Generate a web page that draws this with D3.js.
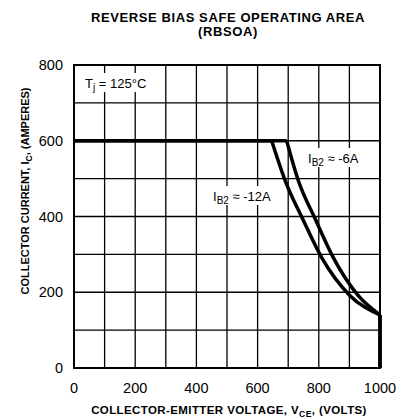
<!DOCTYPE html>
<html>
<head>
<meta charset="utf-8">
<script src="https://cdn.jsdelivr.net/npm/d3@7"></script>
<style>
  body { margin: 0; background: #fff; }
  text { font-family: "Liberation Sans", Arial, sans-serif; fill: #000; }
</style>
</head>
<body>
<svg id="chart"></svg>
<script>
const width = 406;
const height = 419;
const margin = {top: 65, right: 26, bottom: 51, left: 74};

// data
const xTicks = [0, 200, 400, 600, 800, 1000];
const yTicks = [0, 200, 400, 600, 800];
const gridX = [100, 200, 300, 400, 500, 600, 700, 800, 900];
const gridY = [100, 200, 300, 400, 500, 600, 700];

// flat limit, then the curved part, then the drop at 1000 V
const flatI = 600;
const ib2_6A = [
    {v: 695, i: 600}, {v: 733, i: 495}, {v: 788, i: 394},
    {v: 847, i: 292}, {v: 929, i: 191}, {v: 1000, i: 140}
];
const ib2_12A = [
    {v: 646, i: 600}, {v: 690, i: 495}, {v: 747, i: 394},
    {v: 809, i: 292}, {v: 902, i: 191}, {v: 1000, i: 140}
];

const svg = d3.select('#chart')
    .attr('width', width)
    .attr('height', height);

const x = d3.scaleLinear().domain([0, 1000]).range([margin.left, width - margin.right]);
const y = d3.scaleLinear().domain([0, 800]).range([height - margin.bottom, margin.top]);

// grid
svg.append('g').selectAll('line').data(gridX)
    .enter().append('line')
    .attr('x1', d => x(d)).attr('x2', d => x(d))
    .attr('y1', y(0)).attr('y2', y(800))
    .attr('stroke', '#000').attr('stroke-width', 1.3);

svg.append('g').selectAll('line').data(gridY)
    .enter().append('line')
    .attr('x1', x(0)).attr('x2', x(1000))
    .attr('y1', d => y(d)).attr('y2', d => y(d))
    .attr('stroke', '#000').attr('stroke-width', 1.3);

// frame
svg.append('rect')
    .attr('x', x(0)).attr('y', y(800))
    .attr('width', x(1000) - x(0)).attr('height', y(0) - y(800))
    .attr('fill', 'none').attr('stroke', '#000').attr('stroke-width', 2);

// curves
const straight = d3.line().x(d => x(d.v)).y(d => y(d.i));
const smooth = d3.line().x(d => x(d.v)).y(d => y(d.i)).curve(d3.curveMonotoneX);

[ib2_6A, ib2_12A].forEach(series => {
    const first = series[0];
    const last = series[series.length - 1];
    svg.append('path')
        .datum([{v: 0, i: flatI}, first])
        .attr('d', straight)
        .attr('fill', 'none').attr('stroke', '#000').attr('stroke-width', 3.5);
    svg.append('path')
        .datum(series)
        .attr('d', smooth)
        .attr('fill', 'none').attr('stroke', '#000').attr('stroke-width', 3.5)
        .attr('stroke-linejoin', 'round');
    svg.append('path')
        .datum([last, {v: last.v, i: 0}])
        .attr('d', straight)
        .attr('fill', 'none').attr('stroke', '#000').attr('stroke-width', 3.5);
});

// tick labels
svg.append('g').selectAll('text').data(yTicks)
    .enter().append('text')
    .attr('x', 63).attr('y', d => y(d) + 5)
    .attr('text-anchor', 'end')
    .style('font-size', '14.5px')
    .text(d => d);

svg.append('g').selectAll('text').data(xTicks)
    .enter().append('text')
    .attr('x', d => x(d)).attr('y', 393)
    .attr('text-anchor', 'middle')
    .style('font-size', '14.5px')
    .text(d => d);

// titles
svg.append('text').attr('x', 228).attr('y', 22)
    .attr('text-anchor', 'middle')
    .style('font-size', '13px').style('font-weight', 'bold')
    .style('letter-spacing', '0.6px')
    .text('REVERSE BIAS SAFE OPERATING AREA');
svg.append('text').attr('x', 228).attr('y', 36)
    .attr('text-anchor', 'middle')
    .style('font-size', '13px').style('font-weight', 'bold')
    .style('letter-spacing', '0.6px')
    .text('(RBSOA)');

const xTitle = svg.append('text').attr('x', 229).attr('y', 414)
    .attr('text-anchor', 'middle')
    .style('font-size', '11.5px').style('font-weight', 'bold')
    .style('letter-spacing', '0.4px');
xTitle.append('tspan').text('COLLECTOR-EMITTER VOLTAGE, V');
xTitle.append('tspan').attr('dy', 3).style('font-size', '8.5px').text('CE');
xTitle.append('tspan').attr('dy', -3).text(', (VOLTS)');

const yTitle = svg.append('text')
    .attr('transform', 'translate(29,191) rotate(-90)')
    .attr('text-anchor', 'middle')
    .style('font-size', '11px').style('font-weight', 'bold');
yTitle.append('tspan').text('COLLECTOR CURRENT, I');
yTitle.append('tspan').attr('dy', 3).style('font-size', '8.5px').text('C');
yTitle.append('tspan').attr('dy', -3).text(', (AMPERES)');

// annotations with white backing
function label(px, py, parts, bw, bh) {
    svg.append('rect')
        .attr('x', px - 3).attr('y', py - bh + 4)
        .attr('width', bw).attr('height', bh)
        .attr('fill', '#fff');
    const t = svg.append('text').attr('x', px).attr('y', py);
    parts.forEach(p => {
        t.append('tspan').attr('dy', p.dy).style('font-size', p.size).text(p.s);
    });
}

label(85, 88, [
    {s: 'T', dy: 0, size: '13px'},
    {s: 'j', dy: 3, size: '10px'},
    {s: ' = 125°C', dy: -3, size: '13px'}
], 72, 19);

label(308, 163, [
    {s: 'I', dy: 0, size: '13px'},
    {s: 'B2', dy: 3, size: '10px'},
    {s: ' ≈ -6A', dy: -3, size: '13px'}
], 62, 19);

label(213, 201, [
    {s: 'I', dy: 0, size: '13px'},
    {s: 'B2', dy: 3, size: '10px'},
    {s: ' ≈ -12A', dy: -3, size: '13px'}
], 70, 19);
</script>
</body>
</html>
